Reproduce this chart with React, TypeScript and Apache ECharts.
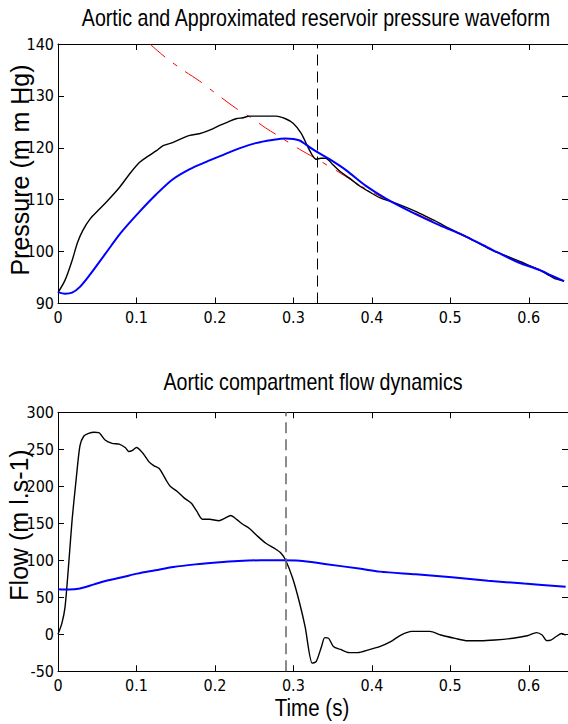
import React, { useEffect, useRef } from "react";
import * as echarts from "echarts";

// ---------- data ----------
const timeTicks = [0, 0.1, 0.2, 0.3, 0.4, 0.5, 0.6];
const pressureTicks = [90, 100, 110, 120, 130, 140];
const flowTicks = [-50, 0, 50, 100, 150, 200, 250, 300];

const aorticPressureT = [0, 0.009, 0.018, 0.025, 0.032, 0.041, 0.051, 0.062, 0.078, 0.091, 0.104, 0.115, 0.125, 0.134, 0.146, 0.158, 0.168, 0.18, 0.19, 0.206, 0.217, 0.227, 0.236, 0.244, 0.26, 0.278, 0.29, 0.3, 0.31, 0.318, 0.324, 0.329, 0.335, 0.341, 0.35, 0.36, 0.371, 0.385, 0.397, 0.41, 0.425, 0.439, 0.455, 0.469, 0.485, 0.498, 0.512, 0.524, 0.54, 0.553, 0.567, 0.579, 0.592, 0.604, 0.615, 0.626, 0.633, 0.638, 0.645];
const aorticPressureV = [92.1, 94.5, 98.3, 101.8, 104.2, 106.3, 107.9, 109.6, 112.3, 114.9, 117.2, 118.4, 119.4, 120.4, 121.0, 121.8, 122.4, 122.7, 123.2, 124.3, 125.0, 125.6, 125.8, 126.1, 126.1, 126.1, 125.6, 124.7, 122.8, 120.3, 118.6, 117.8, 118.0, 118.0, 116.8, 115.4, 114.2, 112.6, 111.5, 110.4, 109.6, 108.8, 107.8, 106.8, 105.6, 104.5, 103.5, 102.6, 101.3, 100.3, 99.4, 98.7, 97.9, 97.1, 96.4, 95.4, 94.8, 94.6, 94.3];

const reservoirPressureT = [0, 0.009, 0.018, 0.028, 0.041, 0.06, 0.08, 0.104, 0.125, 0.146, 0.168, 0.189, 0.21, 0.231, 0.252, 0.273, 0.29, 0.3, 0.308, 0.316, 0.329, 0.346, 0.367, 0.392, 0.418, 0.452, 0.486, 0.52, 0.553, 0.587, 0.613, 0.63, 0.645];
const reservoirPressureV = [92.2, 91.9, 92.1, 93.2, 95.6, 99.5, 103.6, 107.7, 111.0, 113.9, 115.9, 117.3, 118.6, 119.9, 120.9, 121.5, 121.8, 121.7, 121.4, 120.6, 119.3, 117.8, 115.7, 112.7, 110.2, 107.5, 105.1, 102.9, 100.4, 97.9, 96.5, 95.3, 94.3];

const fittedPressureT = [0.117, 0.138, 0.159, 0.18, 0.2, 0.227, 0.244, 0.265, 0.286, 0.308, 0.329, 0.358, 0.39, 0.43, 0.47, 0.51, 0.55, 0.59, 0.62, 0.645];
const fittedPressureV = [140, 137.3, 135.0, 132.9, 130.6, 127.6, 126.0, 123.8, 121.8, 119.7, 117.9, 115.3, 112.3, 109.2, 106.4, 103.5, 100.6, 97.9, 96.0, 94.4];

const aorticFlowT = [0, 0.005, 0.009, 0.014, 0.018, 0.023, 0.028, 0.033, 0.039, 0.046, 0.052, 0.06, 0.069, 0.078, 0.086, 0.09, 0.095, 0.1, 0.108, 0.116, 0.122, 0.129, 0.138, 0.143, 0.152, 0.161, 0.17, 0.177, 0.184, 0.193, 0.205, 0.213, 0.22, 0.228, 0.235, 0.244, 0.255, 0.265, 0.276, 0.284, 0.29, 0.299, 0.308, 0.315, 0.324, 0.329, 0.336, 0.34, 0.345, 0.351, 0.36, 0.371, 0.382, 0.396, 0.41, 0.424, 0.437, 0.451, 0.474, 0.488, 0.506, 0.522, 0.538, 0.557, 0.58, 0.598, 0.61, 0.617, 0.623, 0.628, 0.635, 0.642, 0.647];
const aorticFlowV = [0, 15, 37, 100, 155, 208, 255, 268, 271.5, 273, 272.5, 262.5, 258, 257, 252, 247, 248.5, 252.5, 245, 233, 228, 224, 208, 200, 193, 184, 177, 166, 155.5, 155.5, 153.5, 157, 160.5, 155, 149, 143, 132, 123, 116, 110, 100.5, 76, 42, 10, -39, -37, -16, -4.5, -5.5, -16.5, -20.5, -24.8, -24.8, -21, -16.7, -10, -1, 4, 4, -1, -5.5, -8.7, -8.7, -7.7, -5.4, -2, 2.3, -1, -8.6, -8, -3, 1, -1];

const reservoirFlowT = [0, 0.014, 0.028, 0.046, 0.064, 0.083, 0.101, 0.124, 0.147, 0.175, 0.202, 0.23, 0.258, 0.285, 0.308, 0.34, 0.386, 0.41, 0.456, 0.502, 0.548, 0.594, 0.647];
const reservoirFlowV = [61, 60.5, 62, 67.5, 73, 77.5, 82, 86.5, 91, 94.5, 97, 99, 100, 100, 99.5, 95, 88.5, 84.7, 81, 77, 72.5, 68.5, 64.3];

const pressureMarkerTime = 0.33;
const flowMarkerTime = 0.29;

const titles = ["Aortic and Approximated reservoir pressure waveform", "Aortic compartment flow dynamics"];
const yNames = ["Pressure (m m Hg)", "Flow (m l.s-1)"];
const xName = "Time (s)";

// ---------- helpers ----------
const zip = (t: number[], v: number[]) => t.map((x, i) => [x, v[i]]);
const CONDENSED = '"DejaVu Sans Condensed", "Liberation Sans", Arial, sans-serif';
const REGULAR = '"Liberation Sans", Arial, sans-serif';

function xAxes(gridIndex: number) {
  const base = {
    type: "value" as const,
    gridIndex,
    min: timeTicks[0],
    max: 0.65,
    interval: 0.1,
    splitLine: { show: false },
    axisLine: { show: true, onZero: false, lineStyle: { color: "#000", width: 1 } },
    axisTick: { show: true, inside: true, length: 6, lineStyle: { color: "#000" } },
  };
  return [
    {
      ...base,
      position: "bottom",
      axisLabel: { show: true, showMaxLabel: false, margin: 6, fontSize: 16, fontFamily: CONDENSED, color: "#000" },
    },
    { ...base, position: "top", axisLabel: { show: false } },
  ];
}

function yAxes(gridIndex: number, ticks: number[]) {
  const base = {
    type: "value" as const,
    gridIndex,
    min: ticks[0],
    max: ticks[ticks.length - 1],
    interval: ticks[1] - ticks[0],
    splitLine: { show: false },
    axisLine: { show: true, onZero: false, lineStyle: { color: "#000", width: 1 } },
    axisTick: { show: true, inside: true, length: 6, lineStyle: { color: "#000" } },
  };
  return [
    {
      ...base,
      position: "left",
      axisLabel: { show: true, margin: 4, fontSize: 16, fontFamily: CONDENSED, color: "#000" },
    },
    { ...base, position: "right", axisLabel: { show: false } },
  ];
}

const narrowText = (text: string, x: number, y: number, size: number) => ({
  type: "text",
  x,
  y,
  scaleX: 0.855,
  style: { text, fontSize: size, fontFamily: REGULAR, fill: "#000", align: "center", verticalAlign: "middle" },
});

export default function App() {
  const ref = useRef<HTMLDivElement>(null);

  useEffect(() => {
    if (!ref.current) return;
    const chart = echarts.init(ref.current, undefined, { renderer: "svg" });
    const option: any = {
      animation: false,
      backgroundColor: "#fff",
      grid: [
        { left: 58, top: 44, width: 511, height: 259.5 },
        { left: 58, top: 412.3, width: 511, height: 259 },
      ],
      xAxis: [...xAxes(0), ...xAxes(1)],
      yAxis: [...yAxes(0, pressureTicks), ...yAxes(1, flowTicks)],
      series: [
        {
          name: "Reservoir fit",
          type: "line",
          xAxisIndex: 0,
          yAxisIndex: 0,
          data: zip(fittedPressureT, fittedPressureV),
          showSymbol: false,
          smooth: 0.3,
          lineStyle: { color: "#ff0000", width: 1, type: [20, 10, 5, 10] },
          z: 2,
        },
        {
          name: "Aortic pressure",
          type: "line",
          xAxisIndex: 0,
          yAxisIndex: 0,
          data: zip(aorticPressureT, aorticPressureV),
          showSymbol: false,
          smooth: 0.3,
          lineStyle: { color: "#000", width: 1.4 },
          z: 3,
          markLine: {
            silent: true,
            symbol: ["none", "none"],
            label: { show: false },
            lineStyle: { color: "#000", width: 1, type: [11, 6] },
            data: [{ xAxis: pressureMarkerTime }],
          },
        },
        {
          name: "Reservoir pressure",
          type: "line",
          xAxisIndex: 0,
          yAxisIndex: 0,
          data: zip(reservoirPressureT, reservoirPressureV),
          showSymbol: false,
          smooth: 0.3,
          lineStyle: { color: "#0000ff", width: 2 },
          z: 4,
        },
        {
          name: "Aortic flow",
          type: "line",
          xAxisIndex: 2,
          yAxisIndex: 2,
          data: zip(aorticFlowT, aorticFlowV),
          showSymbol: false,
          smooth: 0.25,
          lineStyle: { color: "#000", width: 1.4 },
          z: 3,
          markLine: {
            silent: true,
            symbol: ["none", "none"],
            label: { show: false },
            lineStyle: { color: "#666", width: 1.5, type: [11, 6] },
            data: [{ xAxis: flowMarkerTime }],
          },
        },
        {
          name: "Reservoir flow",
          type: "line",
          xAxisIndex: 2,
          yAxisIndex: 2,
          data: zip(reservoirFlowT, reservoirFlowV),
          showSymbol: false,
          smooth: 0.3,
          lineStyle: { color: "#0000ff", width: 2 },
          z: 4,
        },
      ],
      graphic: [
        narrowText(titles[0], 316, 18, 23),
        narrowText(titles[1], 313, 382, 23),
        {
          type: "text",
          x: 20,
          y: 170,
          rotation: Math.PI / 2,
          style: { text: yNames[0], fontSize: 25, fontFamily: REGULAR, fill: "#000", align: "center", verticalAlign: "middle" },
        },
        {
          type: "text",
          x: 19,
          y: 525,
          rotation: Math.PI / 2,
          style: { text: yNames[1], fontSize: 25, fontFamily: REGULAR, fill: "#000", align: "center", verticalAlign: "middle" },
        },
        narrowText(xName, 312, 708, 24),
      ],
    };
    chart.setOption(option);
    return () => chart.dispose();
  }, []);

  return (
    <div
      ref={ref}
      style={{ position: "fixed", left: 0, top: 0, width: 568, height: 724, background: "#fff" }}
    />
  );
}
